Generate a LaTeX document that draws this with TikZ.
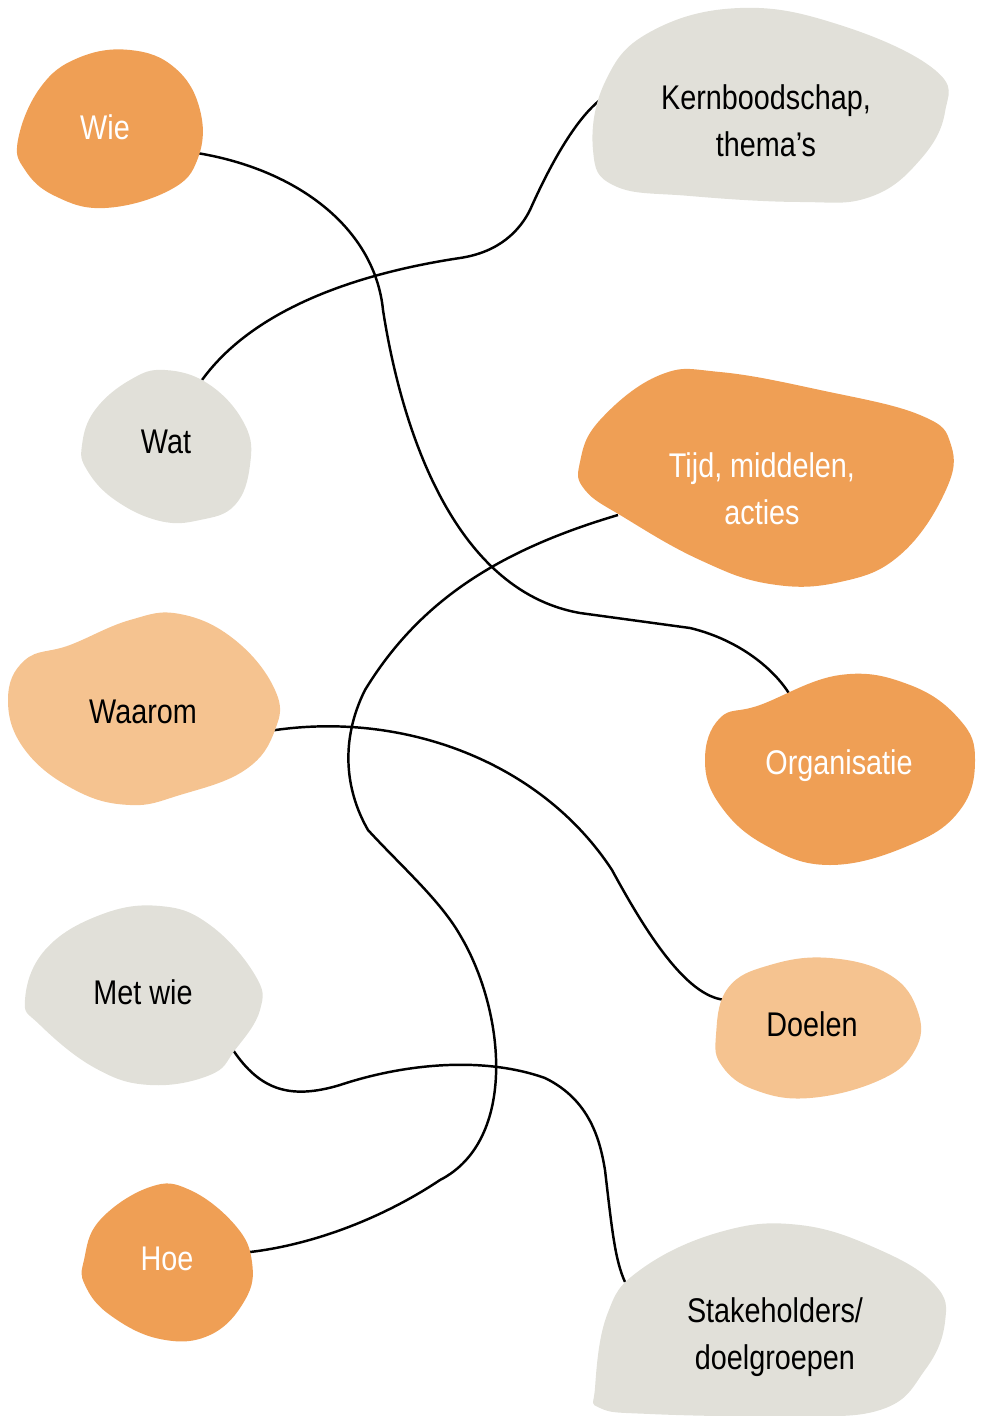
\documentclass[tikz,border=0pt]{standalone}
\usepackage{fontspec}
\setmainfont{Liberation Sans}[FakeStretch=0.84]
\usepackage{tikz}
\usetikzlibrary{backgrounds}
\definecolor{blobdark}{RGB}{239, 159, 85}
\definecolor{bloblight}{RGB}{245, 195, 144}
\definecolor{blobgray}{RGB}{225, 224, 217}

\begin{document}
\begin{tikzpicture}[x=0.02cm, y=-0.02cm,
  darkblob/.style={fill=blobdark},
  lightblob/.style={fill=bloblight},
  grayblob/.style={fill=blobgray},
  label/.style={align=center, font=\fontsize{19.5}{26.7}\selectfont},
  link/.style={line width=1.4pt, black}]
\useasboundingbox (0,0) rectangle (982,1416);

% Wie
\fill[darkblob] plot[smooth cycle, tension=0.7] coordinates {(18,140) (40,88) (78,58) (130,50) (175,68) (200,110) (198,158) (170,190) (105,208) (55,196) (25,170)};
\node[label, white] (wie) at (105,127) {Wie};
\coordinate (wie-out) at (197,153);

% Kernboodschap
\fill[grayblob] plot[smooth cycle, tension=0.7] coordinates {(593,150) (605,82) (650,32) (740,8) (840,25) (935,70) (945,112) (920,160) (870,197) (800,202) (690,196) (615,186)};
\node[label] (kern) at (766,121) {Kernboodschap,\\thema’s};
\coordinate (kern-in) at (600,100);

% Wat
\fill[grayblob] plot[smooth cycle, tension=0.7] coordinates {(82,445) (95,410) (130,380) (165,370) (210,385) (245,425) (250,465) (235,505) (200,520) (160,521) (115,500) (87,470)};
\node[label] (wat) at (166,442) {Wat};
\coordinate (wat-out) at (202,380);

% Tijd, middelen, acties
\fill[darkblob] plot[smooth cycle, tension=0.7] coordinates {(580,462) (600,420) (660,375) (720,372) (820,390) (920,415) (951,445) (945,492) (900,555) (840,582) (770,584) (700,560) (625,518) (585,490)};
\node[label, white] (tijd) at (762,489) {Tijd, middelen,\\acties};
\coordinate (tijd-out) at (618,515);

% Waarom
\fill[lightblob] plot[smooth cycle, tension=0.7] coordinates {(8,700) (25,660) (70,645) (130,620) (180,614) (235,640) (275,690) (275,730) (245,770) (180,795) (130,805) (75,790) (25,750)};
\node[label] (waarom) at (143,712) {Waarom};
\coordinate (waarom-out) at (269,731);

% Organisatie
\fill[darkblob] plot[smooth cycle, tension=0.7] coordinates {(705,760) (720,718) (760,705) (840,675) (910,685) (960,720) (975,760) (960,810) (910,845) (830,865) (765,845) (720,805)};
\node[label, white] (org) at (839,766) {Organisatie};
\coordinate (org-in) at (790,695);

% Met wie
\fill[grayblob] plot[smooth cycle, tension=0.7] coordinates {(25,1000) (45,950) (100,915) (160,906) (210,925) (255,975) (260,1010) (235,1050) (210,1075) (150,1085) (95,1068) (40,1025)};
\node[label] (metwie) at (143,992) {Met wie};
\coordinate (metwie-out) at (233,1050);

% Doelen
\fill[lightblob] plot[smooth cycle, tension=0.7] coordinates {(716,1035) (728,988) (770,965) (830,958) (890,975) (918,1012) (915,1050) (880,1080) (810,1098) (755,1090) (722,1066)};
\node[label] (doelen) at (812,1024) {Doelen};
\coordinate (doelen-in) at (728,1000);

% Hoe
\fill[darkblob] plot[smooth cycle, tension=0.7] coordinates {(84,1260) (100,1220) (150,1187) (190,1190) (235,1225) (252,1262) (245,1300) (210,1335) (160,1339) (110,1315) (85,1285)};
\node[label, white] (hoe) at (167,1259) {Hoe};
\coordinate (hoe-in) at (250,1252);

% Stakeholders
\fill[grayblob] plot[smooth cycle, tension=0.7] coordinates {(595,1388) (607,1315) (640,1270) (720,1232) (800,1225) (880,1250) (935,1285) (945,1322) (925,1370) (880,1410) (780,1416) (650,1414) (600,1408)};
\node[label] (stake) at (775,1337) {Stakeholders/\\doelgroepen};
\coordinate (stake-in) at (625,1282);

% Connections
\begin{scope}[on background layer]
\draw[link] (wie-out) .. controls (300,170) and (375,230) .. (383,310)
  .. controls (400,420) and (450,590) .. (580,613) -- (690,628)
  .. controls (740,640) and (775,670) .. (org-in);
\draw[link] (wat-out) .. controls (260,300) and (380,270) .. (460,258)
  .. controls (500,252) and (520,230) .. (530,210)
  .. controls (550,165) and (575,120) .. (kern-in);
\draw[link] (tijd-out) .. controls (500,550) and (420,600) .. (365,690)
  .. controls (340,740) and (345,790) .. (368,830)
  .. controls (400,865) and (440,900) .. (460,935)
  .. controls (505,1010) and (518,1140) .. (440,1180)
  .. controls (380,1220) and (310,1245) .. (hoe-in);
\draw[link] (waarom-out) .. controls (400,710) and (540,760) .. (612,870)
  .. controls (650,940) and (690,1000) .. (doelen-in);
\draw[link] (metwie-out) .. controls (260,1090) and (290,1100) .. (340,1085)
  .. controls (400,1065) and (480,1055) .. (545,1078)
  .. controls (590,1100) and (600,1140) .. (605,1170)
  .. controls (612,1230) and (615,1260) .. (stake-in);
\end{scope}
\end{tikzpicture}
\end{document}
